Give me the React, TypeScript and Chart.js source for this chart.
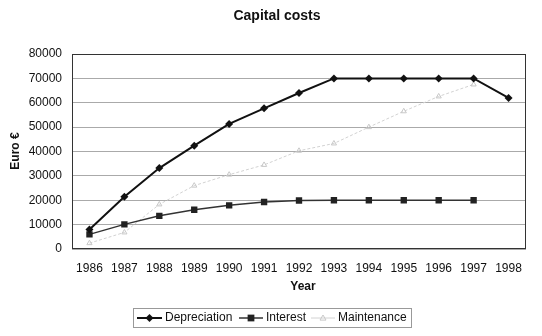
import React, { useEffect, useRef } from "react";
import { Chart, registerables } from "chart.js";

Chart.register(...registerables);

const years = ["1986", "1987", "1988", "1989", "1990", "1991", "1992", "1993", "1994", "1995", "1996", "1997", "1998"];
const depreciation = [8000, 21400, 33200, 42400, 51300, 57700, 64000, 70000, 70000, 70000, 70000, 70000, 62000];
const interest = [6000, 10100, 13600, 16100, 17900, 19300, 19900, 20000, 20000, 20000, 20000, 20000, null];
const maintenance = [2400, 6800, 18300, 26000, 30500, 34500, 40300, 43300, 50000, 56500, 62600, 67500, null];

const titleText = "Capital costs";
const xTitle = "Year";
const yTitle = "Euro €";

const FONT = "Arial, 'Liberation Sans', sans-serif";

const customPlugin = {
  id: "custom",
  afterDraw(chart: any) {
    const { ctx, chartArea } = chart;
    const ca = chartArea;
    ctx.save();
    // plot border
    ctx.strokeStyle = "#333";
    ctx.lineWidth = 1;
    ctx.strokeRect(ca.left + 0.5, ca.top + 0.5, ca.right - ca.left - 1, ca.bottom - ca.top - 1);
    const cx = (ca.left + ca.right) / 2;
    // title
    ctx.fillStyle = "#111";
    ctx.textAlign = "center";
    ctx.textBaseline = "middle";
    ctx.font = `bold 14px ${FONT}`;
    ctx.fillText(titleText, 277, 16);
    // x title
    ctx.font = `bold 12px ${FONT}`;
    ctx.fillText(xTitle, cx + 4, 287);
    // y title
    ctx.save();
    ctx.translate(16, 151);
    ctx.rotate(-Math.PI / 2);
    ctx.fillText(yTitle, 0, 0);
    ctx.restore();

    // legend
    const lx = 133, ly = 308, lw = 278, lh = 19;
    ctx.strokeStyle = "#999";
    ctx.lineWidth = 1;
    ctx.strokeRect(lx + 0.5, ly + 0.5, lw, lh);
    const my = ly + lh / 2 + 0.5;
    const items = [
      { idx: 0, x0: 137, x1: 162, tx: 165 },
      { idx: 1, x0: 239, x1: 263, tx: 266 },
      { idx: 2, x0: 311, x1: 335, tx: 338 },
    ];
    ctx.font = `12px ${FONT}`;
    ctx.textAlign = "left";
    items.forEach((it) => {
      const ds = chart.data.datasets[it.idx];
      ctx.strokeStyle = ds.borderColor;
      ctx.lineWidth = ds.borderWidth;
      ctx.beginPath();
      ctx.moveTo(it.x0, my);
      ctx.lineTo(it.x1, my);
      ctx.stroke();
      const mx = (it.x0 + it.x1) / 2;
      ctx.fillStyle = ds.pointBackgroundColor;
      const r = ds.pointRadius;
      ctx.beginPath();
      if (ds.pointStyle === "rectRot") {
        ctx.moveTo(mx, my - r); ctx.lineTo(mx + r, my); ctx.lineTo(mx, my + r); ctx.lineTo(mx - r, my); ctx.closePath();
        ctx.fill();
      } else if (ds.pointStyle === "rect") {
        ctx.fillRect(mx - r * 0.75, my - r * 0.75, r * 1.5, r * 1.5);
      } else {
        ctx.strokeStyle = ds.pointBorderColor;
        ctx.lineWidth = 1;
        ctx.moveTo(mx, my - r); ctx.lineTo(mx + r, my + r * 0.7); ctx.lineTo(mx - r, my + r * 0.7); ctx.closePath();
        ctx.stroke();
      }
      ctx.fillStyle = "#111";
      ctx.fillText(ds.label, it.tx, my);
    });
    ctx.restore();
  },
};

export default function App() {
  const ref = useRef<HTMLCanvasElement>(null);
  useEffect(() => {
    if (!ref.current) return;
    const chart = new Chart(ref.current, {
      type: "line",
      data: {
        labels: years,
        datasets: [
          {
            label: "Depreciation",
            data: depreciation,
            borderColor: "#111",
            backgroundColor: "#111",
            borderWidth: 2,
            pointStyle: "rectRot",
            pointRadius: 4,
            pointBackgroundColor: "#111",
            pointBorderColor: "#111",
            pointBorderWidth: 0,
            tension: 0,
          },
          {
            label: "Interest",
            data: interest,
            borderColor: "#333",
            backgroundColor: "#222",
            borderWidth: 1.5,
            pointStyle: "rect",
            pointRadius: 4.5,
            pointBackgroundColor: "#222",
            pointBorderColor: "#222",
            pointBorderWidth: 0,
            tension: 0,
          },
          {
            label: "Maintenance",
            data: maintenance,
            borderColor: "#d2d2d2",
            backgroundColor: "#d2d2d2",
            borderWidth: 1,
            borderDash: [3, 2],
            pointStyle: "triangle",
            pointRadius: 3,
            pointBackgroundColor: "rgba(0,0,0,0)",
            pointBorderColor: "#c8c8c8",
            pointBorderWidth: 1,
            tension: 0,
          },
        ],
      },
      options: {
        animation: false,
        responsive: false,
        maintainAspectRatio: false,
        layout: { padding: { left: 0, right: 16, top: 54, bottom: 0 } },
        plugins: { legend: { display: false }, title: { display: false }, tooltip: { enabled: false } },
        scales: {
          x: {
            type: "category",
            offset: true,
            grid: { display: false, drawTicks: false },
            border: { display: false },
            ticks: { color: "#111", font: { family: FONT, size: 12 }, padding: 12, maxRotation: 0, autoSkip: false },
            afterFit: (s: any) => { s.height = 87; },
          },
          y: {
            min: 0,
            max: 80000,
            ticks: {
              stepSize: 10000,
              color: "#111",
              font: { family: FONT, size: 12 },
              padding: 10,
              callback: (v: any) => String(v),
            },
            grid: { color: "#aaa", drawTicks: false, lineWidth: 1 },
            border: { display: false },
            afterFit: (s: any) => { s.width = 72; },
          },
        },
      },
      plugins: [customPlugin],
    });
    return () => chart.destroy();
  }, []);
  return (
    <div style={{ position: "fixed", left: 0, top: 0, width: 542, height: 336, background: "#fff" }}>
      <canvas ref={ref} width={542} height={336} style={{ width: 542, height: 336 }} />
    </div>
  );
}
